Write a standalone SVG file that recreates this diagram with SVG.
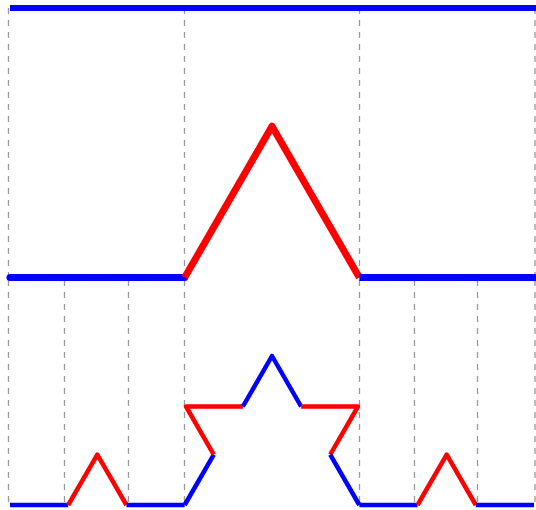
<svg xmlns="http://www.w3.org/2000/svg" width="536" height="510" viewBox="0 0 536 510">
<style>
.dash{stroke:#999;stroke-width:1.3;stroke-dasharray:6,6;fill:none}
.b{stroke:#0000ff;fill:none;stroke-linejoin:round}
.r{stroke:#ff0000;fill:none;stroke-linejoin:round}
.w1{stroke-width:6}
.w2{stroke-width:7}
.w3{stroke-width:4.5}
</style>
<rect width="536" height="510" fill="#ffffff"/>
<g id="guides">
<line class="dash" x1="8.5" y1="8" x2="8.5" y2="277"/>
<line class="dash" x1="184.5" y1="8" x2="184.5" y2="277"/>
<line class="dash" x1="359.5" y1="8" x2="359.5" y2="277"/>
<line class="dash" x1="535" y1="8" x2="535" y2="277"/>
<line class="dash" x1="8.5" y1="280" x2="8.5" y2="505"/>
<line class="dash" x1="64.5" y1="280" x2="64.5" y2="505"/>
<line class="dash" x1="128.5" y1="280" x2="128.5" y2="505"/>
<line class="dash" x1="184.5" y1="280" x2="184.5" y2="505"/>
<line class="dash" x1="359.5" y1="280" x2="359.5" y2="505"/>
<line class="dash" x1="414.5" y1="280" x2="414.5" y2="505"/>
<line class="dash" x1="477.5" y1="280" x2="477.5" y2="505"/>
<line class="dash" x1="535" y1="280" x2="535" y2="505"/>
</g>
<g id="level0">
<line class="b w1" x1="10" y1="8" x2="536" y2="8"/>
</g>
<g id="level1">
<line class="b w2" x1="10" y1="277.5" x2="184.67" y2="277.5" stroke-linecap="round"/>
<polyline class="r w2" points="184.67,277.5 272,126.2 359.33,277.5"/>
<line class="b w2" x1="359.33" y1="277.5" x2="536" y2="277.5"/>
</g>
<g id="level2">
<line class="b w3" x1="10" y1="505" x2="68.22" y2="505"/>
<polyline class="r w3" points="68.22,505 97.33,454.6 126.44,505"/>
<line class="b w3" x1="126.44" y1="505" x2="184.67" y2="505"/>
<line class="b w3" x1="184.67" y1="505" x2="213.78" y2="454.6"/>
<polyline class="r w3" points="213.78,454.6 186,406.5 242.89,406.5"/>
<polyline class="b w3" points="242.89,406.5 272,356 301.11,406.5"/>
<polyline class="r w3" points="301.11,406.5 358,406.5 330.22,454.6"/>
<line class="b w3" x1="330.22" y1="454.6" x2="359.33" y2="505"/>
<line class="b w3" x1="359.33" y1="505" x2="417.56" y2="505"/>
<polyline class="r w3" points="417.56,505 446.67,454.6 475.78,505"/>
<line class="b w3" x1="475.78" y1="505" x2="534" y2="505"/>
</g>
</svg>
